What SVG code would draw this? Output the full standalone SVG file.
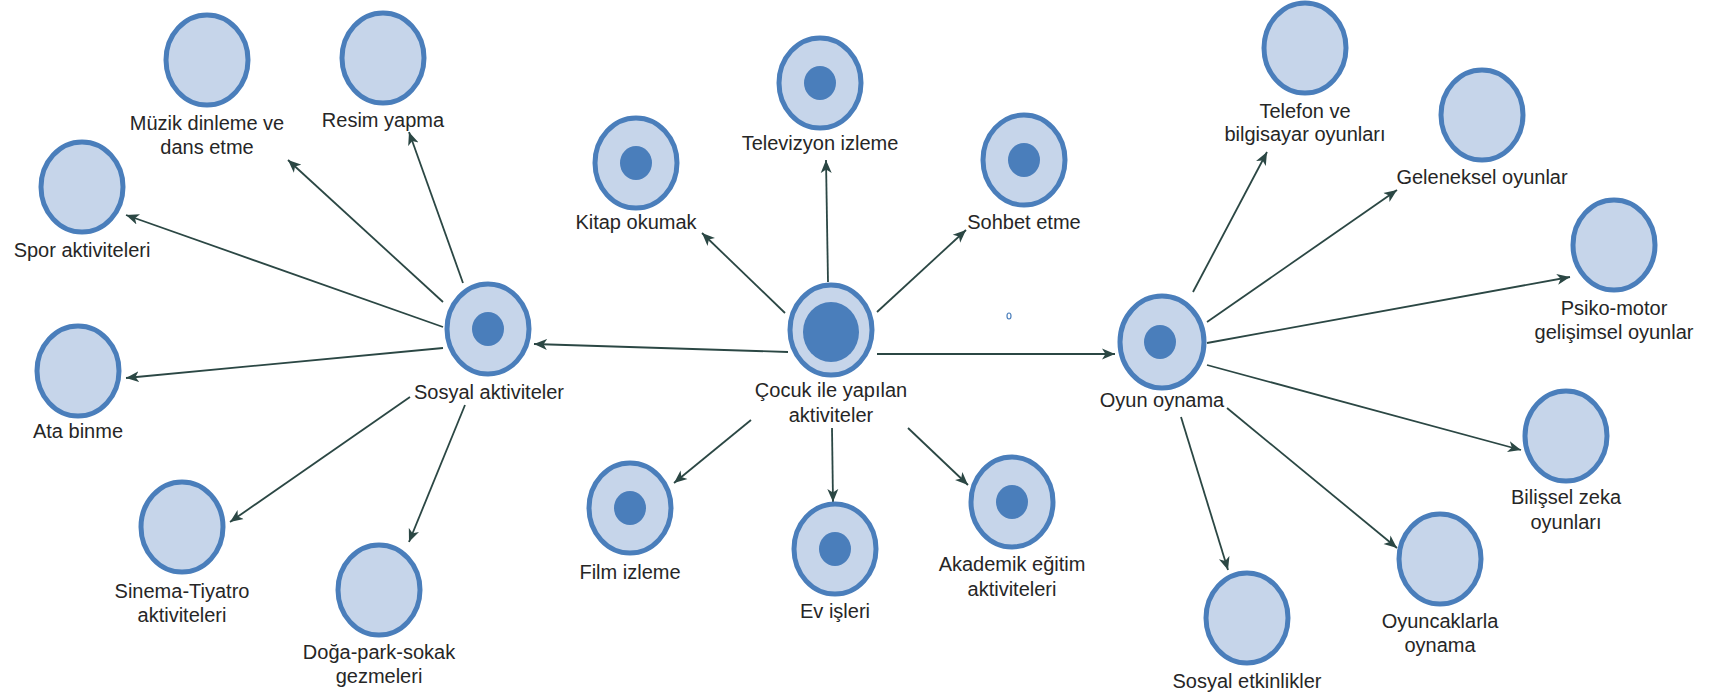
<svg xmlns="http://www.w3.org/2000/svg" width="1715" height="697" viewBox="0 0 1715 697">
<defs>
<marker id="ah" markerUnits="userSpaceOnUse" markerWidth="14" markerHeight="12" refX="13" refY="6" orient="auto">
<path d="M0,0.5 L13,6 L0,11.5 L3.5,6 z" fill="#2b4744"/>
</marker>
<style>
.c{fill:#c6d5ea;stroke:#4a7ebb;stroke-width:5}
.d{fill:#4a7ebb}
.t{font-family:"Liberation Sans",Arial,sans-serif;font-size:20px;fill:#262626;text-anchor:middle}
.e{stroke:#2b4744;stroke-width:1.8;fill:none;marker-end:url(#ah)}
</style>
</defs>
<rect width="1715" height="697" fill="#ffffff"/>
<g id="connectors">
<line class="e" x1="788" y1="352" x2="534" y2="344"/>
<line class="e" x1="785" y1="313" x2="702" y2="233"/>
<line class="e" x1="828" y1="282" x2="826" y2="160"/>
<line class="e" x1="877" y1="312" x2="966" y2="230"/>
<line class="e" x1="877" y1="354" x2="1115" y2="354"/>
<line class="e" x1="751" y1="420" x2="674" y2="483"/>
<line class="e" x1="832" y1="428" x2="833" y2="502"/>
<line class="e" x1="908" y1="428" x2="968" y2="485"/>
<line class="e" x1="443" y1="302" x2="288" y2="160"/>
<line class="e" x1="463" y1="283" x2="409" y2="132"/>
<line class="e" x1="443" y1="327" x2="126" y2="215"/>
<line class="e" x1="443" y1="348" x2="126" y2="378"/>
<line class="e" x1="410" y1="397" x2="230" y2="522"/>
<line class="e" x1="465" y1="405" x2="409" y2="542"/>
<line class="e" x1="1193" y1="292" x2="1267" y2="152"/>
<line class="e" x1="1207" y1="322" x2="1397" y2="190"/>
<line class="e" x1="1207" y1="343" x2="1570" y2="277"/>
<line class="e" x1="1207" y1="365" x2="1521" y2="450"/>
<line class="e" x1="1227" y1="408" x2="1397" y2="548"/>
<line class="e" x1="1181" y1="417" x2="1228" y2="570"/>
</g>
<g id="cocuk"><ellipse class="c" cx="831" cy="330" rx="41" ry="45"/><ellipse class="d" cx="831" cy="332" rx="28" ry="30"/><text class="t" x="831" y="397">Çocuk ile yapılan</text><text class="t" x="831" y="422">aktiviteler</text></g>
<g id="kitap"><ellipse class="c" cx="636" cy="163" rx="41" ry="45"/><ellipse class="d" cx="636" cy="163" rx="16" ry="17"/><text class="t" x="636" y="229">Kitap okumak</text></g>
<g id="televizyon"><ellipse class="c" cx="820" cy="83" rx="41" ry="45"/><ellipse class="d" cx="820" cy="83" rx="16" ry="17"/><text class="t" x="820" y="150">Televizyon izleme</text></g>
<g id="sohbet"><ellipse class="c" cx="1024" cy="160" rx="41" ry="45"/><ellipse class="d" cx="1024" cy="160" rx="16" ry="17"/><text class="t" x="1024" y="229">Sohbet etme</text></g>
<g id="film"><ellipse class="c" cx="630" cy="508" rx="41" ry="45"/><ellipse class="d" cx="630" cy="508" rx="16" ry="17"/><text class="t" x="630" y="579">Film izleme</text></g>
<g id="ev"><ellipse class="c" cx="835" cy="549" rx="41" ry="45"/><ellipse class="d" cx="835" cy="549" rx="16" ry="17"/><text class="t" x="835" y="618">Ev işleri</text></g>
<g id="akademik"><ellipse class="c" cx="1012" cy="502" rx="41" ry="45"/><ellipse class="d" cx="1012" cy="502" rx="16" ry="17"/><text class="t" x="1012" y="571">Akademik eğitim</text><text class="t" x="1012" y="596">aktiviteleri</text></g>
<g id="sosyal"><ellipse class="c" cx="488" cy="329" rx="41" ry="45"/><ellipse class="d" cx="488" cy="329" rx="16" ry="17"/><text class="t" x="489" y="399">Sosyal aktiviteler</text></g>
<g id="muzik"><ellipse class="c" cx="207" cy="60" rx="41" ry="45"/><text class="t" x="207" y="130">Müzik dinleme ve</text><text class="t" x="207" y="154">dans etme</text></g>
<g id="resim"><ellipse class="c" cx="383" cy="58" rx="41" ry="45"/><text class="t" x="383" y="127">Resim yapma</text></g>
<g id="spor"><ellipse class="c" cx="82" cy="187" rx="41" ry="45"/><text class="t" x="82" y="257">Spor aktiviteleri</text></g>
<g id="ata"><ellipse class="c" cx="78" cy="371" rx="41" ry="45"/><text class="t" x="78" y="438">Ata binme</text></g>
<g id="sinema"><ellipse class="c" cx="182" cy="527" rx="41" ry="45"/><text class="t" x="182" y="598">Sinema-Tiyatro</text><text class="t" x="182" y="622">aktiviteleri</text></g>
<g id="doga"><ellipse class="c" cx="379" cy="590" rx="41" ry="45"/><text class="t" x="379" y="659">Doğa-park-sokak</text><text class="t" x="379" y="683">gezmeleri</text></g>
<g id="oyun"><ellipse class="c" cx="1162" cy="342" rx="42" ry="46"/><ellipse class="d" cx="1160" cy="342" rx="16" ry="17"/><text class="t" x="1162" y="407">Oyun oynama</text></g>
<g id="telefon"><ellipse class="c" cx="1305" cy="48" rx="41" ry="45"/><text class="t" x="1305" y="118">Telefon ve</text><text class="t" x="1305" y="141">bilgisayar oyunları</text></g>
<g id="geleneksel"><ellipse class="c" cx="1482" cy="115" rx="41" ry="45"/><text class="t" x="1482" y="184">Geleneksel oyunlar</text></g>
<g id="psiko"><ellipse class="c" cx="1614" cy="245" rx="41" ry="45"/><text class="t" x="1614" y="315">Psiko-motor</text><text class="t" x="1614" y="339">gelişimsel oyunlar</text></g>
<g id="bilissel"><ellipse class="c" cx="1566" cy="436" rx="41" ry="45"/><text class="t" x="1566" y="504">Bilişsel zeka</text><text class="t" x="1566" y="529">oyunları</text></g>
<g id="oyuncaklar"><ellipse class="c" cx="1440" cy="559" rx="41" ry="45"/><text class="t" x="1440" y="628">Oyuncaklarla</text><text class="t" x="1440" y="652">oynama</text></g>
<g id="sosyaletkinlik"><ellipse class="c" cx="1247" cy="618" rx="41" ry="45"/><text class="t" x="1247" y="688">Sosyal etkinlikler</text></g>
<ellipse cx="1009" cy="316" rx="2" ry="3" fill="#ffffff" stroke="#4a7ebb" stroke-width="1.2"/>
</svg>
